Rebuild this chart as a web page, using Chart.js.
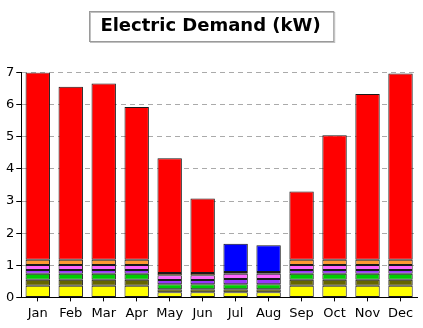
<!DOCTYPE html>
<html>
<head>
<meta charset="utf-8">
<script src="https://cdn.jsdelivr.net/npm/chart.js@4"></script>
<style>
  html, body { margin:0; padding:0; background:#fff; }
  #wrap { width:423px; height:328px; }
</style>
</head>
<body>
<div id="wrap"><canvas id="chartDemand"></canvas></div>
<script>
const months = ["Jan","Feb","Mar","Apr","May","Jun","Jul","Aug","Sep","Oct","Nov","Dec"];

const areaLights = [0.36,0.36,0.36,0.36,0.16,0.16,0.16,0.16,0.36,0.36,0.36,0.36];
const miscEquip  = [0.19,0.19,0.19,0.19,0.09,0.09,0.09,0.09,0.19,0.19,0.19,0.19];
const ventFans   = [0.19,0.19,0.19,0.19,0.16,0.16,0.16,0.16,0.19,0.19,0.19,0.19];
const pumpsAux   = [0.11,0.11,0.11,0.11,0.13,0.13,0.16,0.16,0.11,0.11,0.11,0.11];
const extUsage   = [0.16,0.16,0.16,0.16,0.15,0.15,0.17,0.17,0.16,0.16,0.16,0.16];
const waterHeat  = [0.16,0.16,0.16,0.16,0.07,0.07,0.05,0.05,0.16,0.16,0.16,0.16];
const spaceHeat  = [5.83,5.39,5.49,4.76,3.57,2.32,0,0,2.13,3.88,5.16,5.80];
const spaceCool  = [0,0,0,0,0,0,0.88,0.83,0,0,0,0];

const yTicks = [0,1,2,3,4,5,6,7];

Chart.defaults.font.family = "'DejaVu Sans', Verdana, sans-serif";
Chart.defaults.color = "#000";

// grey box round the title
const titleBox = {
  id:"titleBox",
  afterDraw(chart){
    const t = chart.titleBlock;
    const ctx = chart.ctx;
    ctx.save();
    ctx.font = "bold 18px 'DejaVu Sans'";
    const w = ctx.measureText(t.options.text).width + 24;
    const x = Math.round((chart.width - w)/2) + 0.5;
    const y = 11.5;
    ctx.strokeStyle = "#c0c0c0";
    ctx.lineWidth = 1;
    ctx.strokeRect(x+1, y+1, w, 30);
    ctx.strokeStyle = "#9a9a9a";
    ctx.strokeRect(x, y, w, 30);
    ctx.restore();
  }
};

function ds(label, data, color){
  return { label, data, backgroundColor:color, borderColor:"#1a1a1a",
           borderWidth:1, borderSkipped:false };
}

new Chart(document.getElementById("chartDemand"),{
  type:"bar",
  data:{
    labels:months,
    datasets:[
      ds("Area Lights", areaLights, "#ffff00"),
      ds("Misc. Equip.", miscEquip, "#666600"),
      ds("Vent. Fans", ventFans, "#00cc00"),
      ds("Pumps & Aux.", pumpsAux, "#9933ff"),
      ds("Ext. Usage", extUsage, "#ff66ff"),
      ds("Water Heating", waterHeat, "#ff9933"),
      ds("Space Heat", spaceHeat, "#ff0000"),
      ds("Space Cool", spaceCool, "#0000ff")
    ]
  },
  options:{
    responsive:true,
    maintainAspectRatio:false,
    animation:false,
    layout:{ padding:{ left:4, right:6, top:0, bottom:3 } },
    datasets:{ bar:{ categoryPercentage:1, barPercentage:0.74 } },
    plugins:{
      legend:{ display:false },
      tooltip:{ enabled:false },
      title:{
        display:true,
        text:"Electric Demand (kW)",
        font:{ size:18, weight:"bold" },
        color:"#000",
        padding:{ top:16, bottom:35 }
      }
    },
    scales:{
      x:{
        stacked:true,
        grid:{ offset:false, drawOnChartArea:false, tickLength:4, tickColor:"#000" },
        border:{ color:"#000", width:1 },
        ticks:{ font:{ size:13 }, padding:4, maxRotation:0 }
      },
      y:{
        stacked:true,
        min:0, max:7,
        afterBuildTicks(s){
          const t = [];
          yTicks.forEach((v,i)=>{ t.push({value:v}); if (i < yTicks.length-1) t.push({value:v+0.5}); });
          s.ticks = t;
        },
        grid:{
          color:c=>(c.tick && Number.isInteger(c.tick.value) && c.tick.value>0) ? "#aaaaaa" : "rgba(0,0,0,0)",
          tickColor:"#000",
          tickLength:5
        },
        border:{ color:"#000", width:1, dash:[5,4] },
        ticks:{
          font:{ size:13 },
          padding:2,
          callback:v=>Number.isInteger(v) ? v : ""
        }
      }
    }
  },
  plugins:[titleBox]
});
</script>
</body>
</html>
